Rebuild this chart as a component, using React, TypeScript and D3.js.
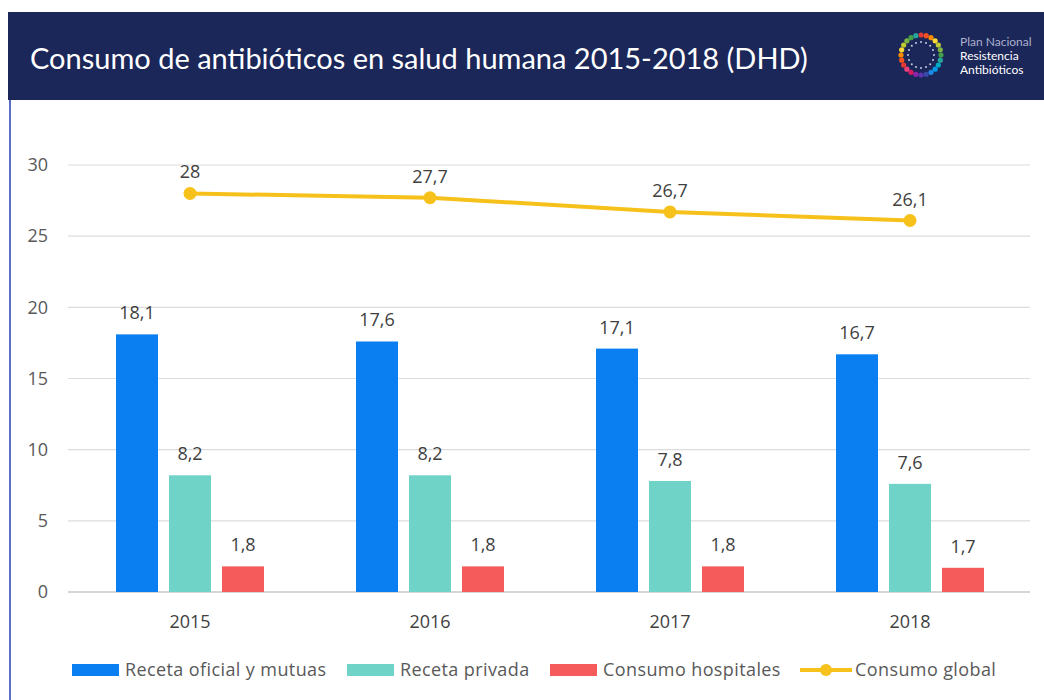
import React from 'react';
import * as d3 from 'd3';

const years = ['2015', '2016', '2017', '2018'];
const recetaOficial = [18.1, 17.6, 17.1, 16.7];
const recetaPrivada = [8.2, 8.2, 7.8, 7.6];
const hospitales = [1.8, 1.8, 1.8, 1.7];
const global = [28, 27.7, 26.7, 26.1];
const yTicks = [0, 5, 10, 15, 20, 25, 30];

const seriesNames = ['Receta oficial y mutuas', 'Receta privada', 'Consumo hospitales'];
const seriesColors = ['#0a7ff2', '#6fd3c7', '#f65b5b'];
const lineName = 'Consumo global';
const lineColor = '#f7c11b';

const logoColors = ['#e53935', '#f4511e', '#fb8c00', '#fdd835', '#c0ca33', '#7cb342', '#43a047', '#26a69a', '#00acc1', '#039be5', '#1e88e5', '#3949ab', '#5e35b1', '#8e24aa', '#d81b60', '#ec407a'];

const fmt = (v: number) => String(v).replace('.', ',');

const App: React.FC = () => {
  const width = 1044;
  const height = 700;
  const font = '"Open Sans", Lato, sans-serif';

  const x = d3.scaleBand<string>().domain(years).range([70, 1030]);
  const y = d3.scaleLinear().domain([0, 30]).range([592, 165]);

  const barW = 42;
  const gap = 11;
  const groups = [recetaOficial, recetaPrivada, hospitales];

  const cx = (yr: string) => (x(yr) || 0) + x.bandwidth() / 2;

  const line = d3.line<number>()
    .x((_, i) => cx(years[i]))
    .y(d => y(d));

  const legendItems = [
    { x: 72, label: seriesNames[0], color: seriesColors[0] },
    { x: 347, label: seriesNames[1], color: seriesColors[1] },
    { x: 550, label: seriesNames[2], color: seriesColors[2] },
  ];

  return (
    <svg width={width} height={height} style={{ position: 'absolute', left: 0, top: 0, background: '#fff' }} fontFamily={font}>
      <rect x={0} y={0} width={width} height={height} fill="#fff" />
      {/* left panel border */}
      <line x1={10} x2={10} y1={100} y2={height} stroke="#5a6fc4" strokeWidth={2} />
      {/* header */}
      <rect x={8} y={12} width={width - 8} height={88} fill="#1b2659" />
      <text x={30} y={69} fill="#fff" fontSize={29} fontFamily="Lato, sans-serif">Consumo de antibióticos en salud humana 2015-2018 (DHD)</text>
      <g transform="translate(921,55)">
        {d3.range(24).map(i => {
          const a = (i / 24) * Math.PI * 2 - Math.PI / 2;
          return <circle key={i} cx={Math.cos(a) * 20} cy={Math.sin(a) * 20} r={2.6} fill={logoColors[i % logoColors.length]} />;
        })}
        {d3.range(16).map(i => {
          const a = (i / 16) * Math.PI * 2;
          return <circle key={'in' + i} cx={Math.cos(a) * 13} cy={Math.sin(a) * 13} r={1} fill="#c9cde0" />;
        })}
      </g>
      <text x={960} y={46} fill="#aab1cc" fontSize={12} fontFamily="Lato, sans-serif">Plan Nacional</text>
      <text x={960} y={60} fill="#fff" fontSize={12} fontFamily="Lato, sans-serif">Resistencia</text>
      <text x={960} y={74} fill="#fff" fontSize={12} fontFamily="Lato, sans-serif">Antibióticos</text>

      {/* gridlines */}
      {yTicks.map(t => (
        <g key={t}>
          <line x1={68} x2={1030} y1={y(t)} y2={y(t)} stroke={t === 0 ? '#c8c8c8' : '#dcdcdc'} strokeWidth={t === 0 ? 1.5 : 1.2} />
          <text x={48} y={y(t)} dy="0.35em" textAnchor="end" fill="#595959" fontSize={18}>{t}</text>
        </g>
      ))}

      {/* bars */}
      {years.map((yr, i) => (
        <g key={yr}>
          {groups.map((g, k) => {
            const bx = cx(yr) - (3 * barW + 2 * gap) / 2 + k * (barW + gap);
            return (
              <g key={k}>
                <rect x={bx} y={y(g[i])} width={barW} height={y(0) - y(g[i])} fill={seriesColors[k]} />
                <text x={bx + barW / 2} y={y(g[i]) - 15} textAnchor="middle" fill="#404040" fontSize={18}>{fmt(g[i])}</text>
              </g>
            );
          })}
          <text x={cx(yr)} y={628} textAnchor="middle" fill="#404040" fontSize={18}>{yr}</text>
        </g>
      ))}

      {/* line */}
      <path d={line(global) || ''} fill="none" stroke={lineColor} strokeWidth={4} />
      {global.map((v, i) => (
        <g key={i}>
          <circle cx={cx(years[i])} cy={y(v)} r={6.5} fill={lineColor} />
          <text x={cx(years[i])} y={y(v) - 15} textAnchor="middle" fill="#404040" fontSize={18}>{fmt(v)}</text>
        </g>
      ))}

      {/* legend */}
      {legendItems.map(it => (
        <g key={it.label}>
          <rect x={it.x} y={664} width={47} height={12} fill={it.color} />
          <text x={it.x + 53} y={670} dy="0.35em" fill="#595959" fontSize={18} letterSpacing={0.4}>{it.label}</text>
        </g>
      ))}
      <line x1={800} x2={852} y1={670} y2={670} stroke={lineColor} strokeWidth={4} />
      <circle cx={826} cy={670} r={6} fill={lineColor} />
      <text x={855} y={670} dy="0.35em" fill="#595959" fontSize={18} letterSpacing={0.4}>{lineName}</text>
    </svg>
  );
};

export default App;
